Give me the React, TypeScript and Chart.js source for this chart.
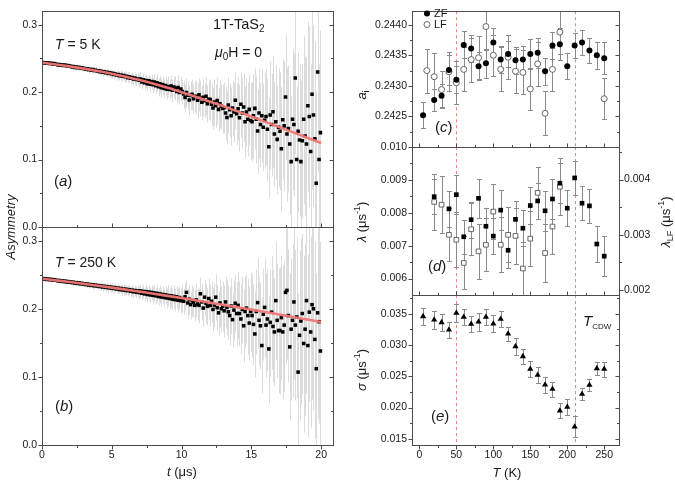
import React, { useEffect, useRef } from "react";
import { Chart, registerables } from "chart.js";
Chart.register(...registerables);

// ---------------- data ----------------
const timeUs = [
  0.05, 0.15, 0.25, 0.35, 0.45, 0.55, 0.65, 0.75, 0.85, 0.95,
  1.05, 1.15, 1.25, 1.35, 1.45, 1.55, 1.65, 1.75, 1.85, 1.95,
  2.05, 2.15, 2.25, 2.35, 2.45, 2.55, 2.65, 2.75, 2.85, 2.95,
  3.05, 3.15, 3.25, 3.35, 3.45, 3.55, 3.65, 3.75, 3.85, 3.95,
  4.05, 4.15, 4.25, 4.35, 4.45, 4.55, 4.65, 4.75, 4.85, 4.95,
  5.05, 5.15, 5.25, 5.35, 5.45, 5.55, 5.65, 5.75, 5.85, 5.95,
  6.05, 6.15, 6.25, 6.35, 6.45, 6.55, 6.65, 6.75, 6.85, 6.95,
  7.05, 7.15, 7.25, 7.35, 7.45, 7.55, 7.65, 7.75, 7.85, 7.95,
  8.05, 8.15, 8.25, 8.35, 8.45, 8.55, 8.65, 8.75, 8.85, 8.95,
  9.05, 9.15, 9.25, 9.35, 9.45, 9.55, 9.65, 9.75, 9.85, 9.95,
  10.05, 10.15, 10.25, 10.35, 10.45, 10.55, 10.65, 10.75, 10.85, 10.95,
  11.05, 11.15, 11.25, 11.35, 11.45, 11.55, 11.65, 11.75, 11.85, 11.95,
  12.05, 12.15, 12.25, 12.35, 12.45, 12.55, 12.65, 12.75, 12.85, 12.95,
  13.05, 13.15, 13.25, 13.35, 13.45, 13.55, 13.65, 13.75, 13.85, 13.95,
  14.05, 14.15, 14.25, 14.35, 14.45, 14.55, 14.65, 14.75, 14.85, 14.95,
  15.05, 15.15, 15.25, 15.35, 15.45, 15.55, 15.65, 15.75, 15.85, 15.95,
  16.05, 16.15, 16.25, 16.35, 16.45, 16.55, 16.65, 16.75, 16.85, 16.95,
  17.05, 17.15, 17.25, 17.35, 17.45, 17.55, 17.65, 17.75, 17.85, 17.95,
  18.05, 18.15, 18.25, 18.35, 18.45, 18.55, 18.65, 18.75, 18.85, 18.95,
  19.05, 19.15, 19.25, 19.35, 19.45, 19.55, 19.65, 19.75, 19.85, 19.95,
];

const asymT5 = [
  0.2440, 0.2432, 0.2437, 0.2428, 0.2431, 0.2425, 0.2429, 0.2420, 0.2424, 0.2416,
  0.2413, 0.2405, 0.2410, 0.2401, 0.2404, 0.2396, 0.2402, 0.2391, 0.2395, 0.2388,
  0.2384, 0.2374, 0.2381, 0.2368, 0.2373, 0.2363, 0.2370, 0.2358, 0.2362, 0.2352,
  0.2351, 0.2340, 0.2347, 0.2333, 0.2339, 0.2327, 0.2335, 0.2321, 0.2326, 0.2314,
  0.2318, 0.2303, 0.2311, 0.2296, 0.2304, 0.2289, 0.2297, 0.2280, 0.2288, 0.2272,
  0.2279, 0.2262, 0.2270, 0.2254, 0.2263, 0.2245, 0.2256, 0.2237, 0.2246, 0.2228,
  0.2236, 0.2215, 0.2227, 0.2206, 0.2219, 0.2195, 0.2209, 0.2188, 0.2196, 0.2176,
  0.2195, 0.2150, 0.2185, 0.2140, 0.2172, 0.2125, 0.2168, 0.2118, 0.2160, 0.2112,
  0.2150, 0.2095, 0.2138, 0.2080, 0.2125, 0.2065, 0.2112, 0.2055, 0.2098, 0.2045,
  0.2085, 0.2040, 0.2092, 0.2028, 0.2078, 0.2060, 0.2012, 0.2068, 0.1995, 0.2048,
  0.2010, 0.1975, 0.1920, 0.1995, 0.1955, 0.1885, 0.1950, 0.1968, 0.1902, 0.1940,
  0.1935, 0.1880, 0.1962, 0.1910, 0.1850, 0.1925, 0.1872, 0.1940, 0.1830, 0.1895,
  0.1890, 0.1820, 0.1765, 0.1855, 0.1800, 0.1875, 0.1745, 0.1830, 0.1790, 0.1760,
  0.1770, 0.1690, 0.1625, 0.1810, 0.1740, 0.1650, 0.1765, 0.1705, 0.1880, 0.1680,
  0.1755, 0.1620, 0.1820, 0.1690, 0.1780, 0.1560, 0.1705, 0.1600, 0.1745, 0.1580,
  0.1560, 0.1650, 0.1760, 0.1600, 0.1425, 0.1690, 0.1520, 0.1650, 0.1480, 0.1585,
  0.1640, 0.1450, 0.1190, 0.1660, 0.1520, 0.1710, 0.1380, 0.1560, 0.1300, 0.1480,
  0.1420, 0.1160, 0.1590, 0.1500, 0.1930, 0.1380, 0.1460, 0.1230, 0.0970, 0.1600,
  0.1520, 0.2210, 0.1000, 0.1420, 0.1290, 0.0970, 0.1280, 0.1600, 0.1350, 0.1230,
  0.1800, 0.1640, 0.1120, 0.1970, 0.1660, 0.1310, 0.0650, 0.2300, 0.1000, 0.1400,
];

const asymT5Err = [
  0.0020, 0.0021, 0.0021, 0.0022, 0.0021, 0.0022, 0.0022, 0.0023, 0.0022, 0.0023,
  0.0025, 0.0026, 0.0025, 0.0027, 0.0026, 0.0027, 0.0028, 0.0027, 0.0028, 0.0029,
  0.0031, 0.0033, 0.0032, 0.0034, 0.0033, 0.0035, 0.0034, 0.0036, 0.0035, 0.0037,
  0.0039, 0.0041, 0.0040, 0.0043, 0.0042, 0.0044, 0.0043, 0.0046, 0.0045, 0.0047,
  0.0049, 0.0052, 0.0050, 0.0054, 0.0053, 0.0056, 0.0054, 0.0058, 0.0056, 0.0059,
  0.0062, 0.0065, 0.0063, 0.0068, 0.0066, 0.0070, 0.0068, 0.0073, 0.0070, 0.0074,
  0.0078, 0.0082, 0.0080, 0.0086, 0.0083, 0.0088, 0.0086, 0.0092, 0.0088, 0.0094,
  0.0098, 0.0103, 0.0100, 0.0108, 0.0104, 0.0111, 0.0107, 0.0115, 0.0110, 0.0118,
  0.0122, 0.0129, 0.0125, 0.0135, 0.0130, 0.0139, 0.0133, 0.0144, 0.0137, 0.0148,
  0.0153, 0.0162, 0.0157, 0.0170, 0.0163, 0.0175, 0.0167, 0.0181, 0.0172, 0.0186,
  0.0192, 0.0204, 0.0197, 0.0213, 0.0205, 0.0220, 0.0209, 0.0227, 0.0215, 0.0233,
  0.0241, 0.0256, 0.0247, 0.0268, 0.0257, 0.0276, 0.0262, 0.0285, 0.0270, 0.0292,
  0.0302, 0.0321, 0.0310, 0.0336, 0.0322, 0.0346, 0.0328, 0.0357, 0.0338, 0.0366,
  0.0378, 0.0402, 0.0388, 0.0420, 0.0403, 0.0433, 0.0411, 0.0447, 0.0423, 0.0458,
  0.0468, 0.0497, 0.0480, 0.0520, 0.0499, 0.0536, 0.0508, 0.0553, 0.0524, 0.0567,
  0.0585, 0.0621, 0.0600, 0.0650, 0.0624, 0.0670, 0.0636, 0.0691, 0.0655, 0.0709,
  0.0720, 0.0765, 0.0738, 0.0800, 0.0768, 0.0824, 0.0782, 0.0850, 0.0806, 0.0872,
  0.0873, 0.0927, 0.0895, 0.0970, 0.0931, 0.0999, 0.0948, 0.1031, 0.0977, 0.1057,
  0.1062, 0.1128, 0.1088, 0.1180, 0.1133, 0.1215, 0.1153, 0.1254, 0.1189, 0.1286,
  0.1260, 0.1338, 0.1291, 0.1400, 0.1344, 0.1442, 0.1368, 0.1488, 0.1411, 0.1526,
];

const asymT250 = [
  0.2443, 0.2436, 0.2441, 0.2430, 0.2435, 0.2426, 0.2432, 0.2422, 0.2427, 0.2418,
  0.2418, 0.2409, 0.2415, 0.2403, 0.2409, 0.2399, 0.2406, 0.2394, 0.2400, 0.2390,
  0.2393, 0.2383, 0.2390, 0.2377, 0.2383, 0.2372, 0.2380, 0.2366, 0.2374, 0.2362,
  0.2366, 0.2355, 0.2362, 0.2348, 0.2356, 0.2343, 0.2352, 0.2337, 0.2346, 0.2333,
  0.2340, 0.2326, 0.2335, 0.2319, 0.2330, 0.2314, 0.2325, 0.2308, 0.2320, 0.2303,
  0.2314, 0.2297, 0.2309, 0.2290, 0.2303, 0.2283, 0.2298, 0.2276, 0.2290, 0.2270,
  0.2286, 0.2266, 0.2280, 0.2258, 0.2273, 0.2250, 0.2268, 0.2243, 0.2262, 0.2238,
  0.2262, 0.2228, 0.2255, 0.2218, 0.2250, 0.2210, 0.2246, 0.2203, 0.2240, 0.2196,
  0.2232, 0.2190, 0.2226, 0.2180, 0.2218, 0.2172, 0.2210, 0.2165, 0.2204, 0.2158,
  0.2195, 0.2150, 0.2190, 0.2140, 0.2182, 0.2132, 0.2175, 0.2125, 0.2165, 0.2118,
  0.2150, 0.2110, 0.2175, 0.2240, 0.2085, 0.2140, 0.2060, 0.2120, 0.2095, 0.2050,
  0.2130, 0.2070, 0.2050, 0.2220, 0.2100, 0.2010, 0.2170, 0.2080, 0.2035, 0.2150,
  0.2050, 0.2110, 0.1990, 0.2055, 0.2170, 0.2015, 0.1940, 0.2085, 0.2000, 0.2040,
  0.1970, 0.2100, 0.2020, 0.1955, 0.1900, 0.2040, 0.1840, 0.1980, 0.2080, 0.1930,
  0.2050, 0.1930, 0.1850, 0.1990, 0.1750, 0.1960, 0.2010, 0.1900, 0.1790, 0.1960,
  0.1900, 0.1770, 0.1630, 0.1960, 0.2090, 0.1830, 0.1750, 0.1460, 0.1920, 0.2020,
  0.1760, 0.1850, 0.1410, 0.1800, 0.1950, 0.1740, 0.1660, 0.2120, 0.1830, 0.1680,
  0.1680, 0.1870, 0.1660, 0.1760, 0.2240, 0.2270, 0.1900, 0.1440, 0.1700, 0.1830,
  0.2100, 0.1760, 0.1880, 0.1070, 0.1610, 0.1820, 0.1930, 0.1490, 0.1700, 0.2120,
  0.1460, 0.1950, 0.1660, 0.2060, 0.2000, 0.1550, 0.1120, 0.1940, 0.1810, 0.1380,
];

const asymT250Err = [
  0.0021, 0.0020, 0.0022, 0.0021, 0.0023, 0.0022, 0.0021, 0.0023, 0.0022, 0.0024,
  0.0026, 0.0025, 0.0027, 0.0026, 0.0028, 0.0027, 0.0026, 0.0029, 0.0028, 0.0030,
  0.0032, 0.0031, 0.0034, 0.0033, 0.0035, 0.0034, 0.0033, 0.0036, 0.0035, 0.0038,
  0.0040, 0.0039, 0.0042, 0.0041, 0.0044, 0.0043, 0.0042, 0.0046, 0.0044, 0.0048,
  0.0050, 0.0049, 0.0053, 0.0052, 0.0055, 0.0054, 0.0053, 0.0058, 0.0056, 0.0060,
  0.0063, 0.0062, 0.0066, 0.0065, 0.0069, 0.0068, 0.0066, 0.0072, 0.0070, 0.0075,
  0.0079, 0.0077, 0.0083, 0.0081, 0.0087, 0.0085, 0.0083, 0.0091, 0.0088, 0.0095,
  0.0099, 0.0097, 0.0104, 0.0102, 0.0109, 0.0107, 0.0104, 0.0114, 0.0110, 0.0119,
  0.0124, 0.0121, 0.0130, 0.0128, 0.0137, 0.0134, 0.0130, 0.0143, 0.0138, 0.0149,
  0.0156, 0.0152, 0.0163, 0.0160, 0.0172, 0.0168, 0.0163, 0.0179, 0.0173, 0.0187,
  0.0195, 0.0190, 0.0205, 0.0201, 0.0216, 0.0211, 0.0205, 0.0225, 0.0217, 0.0235,
  0.0245, 0.0239, 0.0257, 0.0252, 0.0271, 0.0265, 0.0257, 0.0282, 0.0272, 0.0295,
  0.0307, 0.0300, 0.0322, 0.0316, 0.0340, 0.0332, 0.0322, 0.0354, 0.0341, 0.0370,
  0.0385, 0.0376, 0.0404, 0.0396, 0.0426, 0.0416, 0.0404, 0.0444, 0.0428, 0.0464,
  0.0483, 0.0472, 0.0507, 0.0497, 0.0534, 0.0522, 0.0507, 0.0557, 0.0537, 0.0582,
  0.0606, 0.0592, 0.0636, 0.0623, 0.0670, 0.0655, 0.0636, 0.0699, 0.0674, 0.0730,
  0.0760, 0.0742, 0.0798, 0.0782, 0.0841, 0.0822, 0.0798, 0.0877, 0.0845, 0.0916,
  0.0935, 0.0913, 0.0982, 0.0962, 0.1034, 0.1011, 0.0982, 0.1079, 0.1040, 0.1127,
  0.1128, 0.1101, 0.1185, 0.1160, 0.1248, 0.1220, 0.1185, 0.1302, 0.1255, 0.1360,
  0.1340, 0.1308, 0.1408, 0.1378, 0.1482, 0.1449, 0.1408, 0.1546, 0.1490, 0.1615,
];

const fitTime = [0, 1, 2, 3, 4, 5, 6, 7, 8, 9, 10, 11, 12, 13, 14, 15, 16, 17, 18, 19, 20];
const fitT5 = [0.2438, 0.2412, 0.2383, 0.2350, 0.2315, 0.2275, 0.2230, 0.2180, 0.2125, 0.2065,
  0.2000, 0.1932, 0.1862, 0.1790, 0.1715, 0.1638, 0.1560, 0.1482, 0.1404, 0.1325, 0.1245];
const fitT250 = [0.2441, 0.2417, 0.2392, 0.2365, 0.2338, 0.2310, 0.2281, 0.2251, 0.2221, 0.2189,
  0.2157, 0.2124, 0.2090, 0.2056, 0.2022, 0.1987, 0.1951, 0.1915, 0.1879, 0.1842, 0.1805];

const tempZF = [5, 20, 30, 40, 50, 60, 70, 80, 90, 100, 110, 120, 130, 140, 150, 160, 170, 180, 190, 200, 210, 220, 230, 240, 250];
const aiZF = [0.24252, 0.24277, 0.24284, 0.24326, 0.24310, 0.24367, 0.24361, 0.24332, 0.24337, 0.24371, 0.24343, 0.24352, 0.24342,
  0.24343, 0.24352, 0.24354, 0.24324, 0.24366, 0.24368, 0.24332, 0.24366, 0.24371, 0.24358, 0.24350, 0.24345];
const aiZFErr = [0.00021, 0.00018, 0.00019, 0.00024, 0.00022, 0.00022, 0.00022, 0.00023, 0.00024, 0.00023, 0.00022, 0.00021, 0.00022,
  0.00022, 0.00024, 0.00024, 0.00022, 0.00022, 0.00026, 0.00021, 0.00021, 0.00021, 0.00021, 0.00022, 0.00026];

const tempLF = [10, 20, 30, 40, 50, 60, 70, 80, 90, 100, 110, 120, 130, 140, 150, 160, 170, 180, 190, 250];
const aiLF = [0.24325, 0.24315, 0.24294, 0.24323, 0.24305, 0.24327, 0.24343, 0.24346, 0.24397, 0.24350, 0.24327, 0.24347, 0.24324,
  0.24322, 0.24295, 0.24336, 0.24255, 0.24327, 0.24388, 0.24279];
const aiLFErr = [0.00036, 0.00038, 0.00030, 0.00032, 0.00035, 0.00036, 0.00036, 0.00035, 0.00038, 0.00034, 0.00036, 0.00036, 0.00036,
  0.00036, 0.00035, 0.00036, 0.00036, 0.00035, 0.00036, 0.00034];

const lamZFTemp = [20, 40, 50, 60, 70, 80, 90, 100, 110, 120, 130, 140, 150, 160, 170, 180, 190, 200, 210, 220, 230, 240, 250];
const lamZF = [0.00849, 0.00812, 0.00855, 0.00727, 0.00779, 0.00844, 0.00759, 0.00729, 0.00808, 0.00686, 0.00780, 0.00753,
  0.00822, 0.00836, 0.00806, 0.00842, 0.00890, 0.00814, 0.00906, 0.00829, 0.00821, 0.00705, 0.00668];
const lamZFErr = [0.00053, 0.00055, 0.00060, 0.00052, 0.00055, 0.00060, 0.00055, 0.00055, 0.00060, 0.00055, 0.00055, 0.00055,
  0.00055, 0.00055, 0.00060, 0.00060, 0.00060, 0.00055, 0.00052, 0.00052, 0.00052, 0.00055, 0.00060];

const lamLFTemp = [20, 30, 40, 50, 60, 70, 80, 90, 100, 110, 120, 130, 140, 150, 160, 170, 180, 190];
const lamLF = [0.003595, 0.003545, 0.00300, 0.00291, 0.00249, 0.00310, 0.00270, 0.00282, 0.00342, 0.00282, 0.00300, 0.00298,
  0.00239, 0.00293, 0.00376, 0.00267, 0.00315, 0.00387];
const lamLFErr = [0.00050, 0.00052, 0.00048, 0.00050, 0.00048, 0.00047, 0.00050, 0.00048, 0.00050, 0.00050, 0.00050, 0.00050,
  0.00048, 0.00050, 0.00047, 0.00052, 0.00050, 0.00052];

const sigmaTemp = [5, 20, 30, 40, 50, 60, 70, 80, 90, 100, 110, 120, 130, 140, 150, 160, 170, 180, 190, 200, 210, 220, 230, 240, 250];
const sigma = [0.03457, 0.03404, 0.03361, 0.03244, 0.03511, 0.03447, 0.03335, 0.03372, 0.03447, 0.03340, 0.03415, 0.03180, 0.02977,
  0.02817, 0.02615, 0.02519, 0.02364, 0.02295, 0.01948, 0.02007, 0.01692, 0.02215, 0.02359, 0.02625, 0.02615];
const sigmaErr = [0.00133, 0.00140, 0.00130, 0.00130, 0.00140, 0.00133, 0.00133, 0.00140, 0.00133, 0.00133, 0.00130, 0.00110, 0.00130,
  0.00120, 0.00130, 0.00130, 0.00130, 0.00120, 0.00120, 0.00130, 0.00170, 0.00090, 0.00100, 0.00100, 0.00120];

const cdwMarks = [50, 210];

const tTicks = [0, 5, 10, 15, 20];
const tMinor = [2.5, 7.5, 12.5, 17.5];
const asymTicks = [0, 0.1, 0.2, 0.3];
const asymMinor = [0.05, 0.15, 0.25];
const tempTicks = [0, 50, 100, 150, 200, 250];
const tempMinor = [25, 75, 125, 175, 225];
const aiTicks = [0.2425, 0.2430, 0.2435, 0.2440];
const aiMinor = [0.24225, 0.24275, 0.24325, 0.24375];
const lamTicks = [0.006, 0.007, 0.008, 0.009, 0.010];
const lamMinor = [0.0065, 0.0075, 0.0085, 0.0095];
const lamLFTicks = [0.002, 0.003, 0.004];
const lamLFMinor = [0.0025, 0.0035, 0.0045];
const sigmaTicks = [0.015, 0.020, 0.025, 0.030, 0.035];
const sigmaMinor = [0.0175, 0.0225, 0.0275, 0.0325, 0.0375];

// ---------------- helpers ----------------
const FONT = "'Liberation Sans', Arial, sans-serif";
const INK = "#1a1a1a";
const FRAME = "#4a4a4a";
const RED = "rgba(240,118,118,0.95)";

type Seg = { t: string; it?: boolean; sub?: boolean; sup?: boolean; k?: number };
type TextItem = { segs: Seg[]; x: number; y: number; size: number; align?: "left" | "center"; rot?: number };

function segFont(s: Seg, base: number) {
  const sz = s.sub || s.sup ? Math.round(base * (s.k ?? 0.68)) : base;
  return `${s.it ? "italic " : ""}${sz}px ${FONT}`;
}

function drawRich(ctx: CanvasRenderingContext2D, item: TextItem) {
  const { segs, x, y, size } = item;
  ctx.save();
  ctx.translate(x, y);
  if (item.rot) ctx.rotate(item.rot);
  ctx.textBaseline = "middle";
  ctx.textAlign = "left";
  ctx.fillStyle = INK;
  let w = 0;
  for (const s of segs) {
    ctx.font = segFont(s, size);
    w += ctx.measureText(s.t).width;
  }
  let cx = item.align === "center" ? -w / 2 : 0;
  for (const s of segs) {
    ctx.font = segFont(s, size);
    const dy = s.sub ? size * 0.32 : s.sup ? -size * 0.33 : 0;
    ctx.fillText(s.t, cx, dy);
    cx += ctx.measureText(s.t).width;
  }
  ctx.restore();
}

type Side = { scale: string; dir: "in" | "out"; major: number[]; minor: number[] };
type Decor = {
  left?: Side; right?: Side; top?: Side; bottom?: Side;
  vlines?: number[];
  texts: TextItem[];
  legend?: boolean;
};

const errorBarPlugin = {
  id: "errbars",
  beforeDatasetsDraw(chart: any) {
    const { ctx, chartArea: a } = chart;
    ctx.save();
    ctx.beginPath();
    ctx.rect(a.left, a.top, a.right - a.left, a.bottom - a.top);
    ctx.clip();
    chart.data.datasets.forEach((ds: any, i: number) => {
      if (!ds.errors) return;
      const meta = chart.getDatasetMeta(i);
      const xs = chart.scales[meta.xAxisID];
      const ys = chart.scales[meta.yAxisID];
      ctx.strokeStyle = ds.errColor;
      ctx.lineWidth = 1;
      ds.data.forEach((p: any, j: number) => {
        const e = ds.errors[j];
        const px = Math.round(xs.getPixelForValue(p.x)) + 0.5;
        const y1 = Math.round(ys.getPixelForValue(p.y - e)) + 0.5;
        const y2 = Math.round(ys.getPixelForValue(p.y + e)) + 0.5;
        ctx.beginPath();
        ctx.moveTo(px, y1);
        ctx.lineTo(px, y2);
        if (ds.cap) {
          ctx.moveTo(px - ds.cap, y1);
          ctx.lineTo(px + ds.cap, y1);
          ctx.moveTo(px - ds.cap, y2);
          ctx.lineTo(px + ds.cap, y2);
        }
        ctx.stroke();
      });
    });
    ctx.restore();
  },
};

function decorPlugin(d: Decor) {
  const drawSide = (chart: any, pos: "left" | "right" | "top" | "bottom", side?: Side) => {
    if (!side) return;
    const { ctx, chartArea: a } = chart;
    const s = chart.scales[side.scale];
    const lo = Math.min(s.min, s.max), hi = Math.max(s.min, s.max);
    const one = (v: number, len: number) => {
      if (v < lo - 1e-12 || v > hi + 1e-12) return;
      const p = Math.round(s.getPixelForValue(v)) + 0.5;
      ctx.beginPath();
      if (pos === "left") {
        const x0 = Math.round(a.left) + 0.5;
        const sg = side.dir === "out" ? -1 : 1;
        ctx.moveTo(x0, p); ctx.lineTo(x0 + sg * len, p);
      } else if (pos === "right") {
        const x0 = Math.round(a.right) + 0.5;
        const sg = side.dir === "out" ? 1 : -1;
        ctx.moveTo(x0, p); ctx.lineTo(x0 + sg * len, p);
      } else if (pos === "bottom") {
        const y0 = Math.round(a.bottom) + 0.5;
        const sg = side.dir === "out" ? 1 : -1;
        ctx.moveTo(p, y0); ctx.lineTo(p, y0 + sg * len);
      } else {
        const y0 = Math.round(a.top) + 0.5;
        const sg = side.dir === "out" ? -1 : 1;
        ctx.moveTo(p, y0); ctx.lineTo(p, y0 + sg * len);
      }
      ctx.stroke();
    };
    ctx.save();
    ctx.strokeStyle = FRAME;
    ctx.lineWidth = 1;
    side.major.forEach((v) => one(v, 4));
    side.minor.forEach((v) => one(v, 2.5));
    ctx.restore();
  };
  return {
    id: "decor",
    beforeDatasetsDraw(chart: any) {
      if (!d.vlines) return;
      const { ctx, chartArea: a } = chart;
      const xs = chart.scales.x;
      ctx.save();
      ctx.strokeStyle = "rgba(232,96,96,0.8)";
      ctx.lineWidth = 1;
      ctx.setLineDash([3, 3]);
      d.vlines.forEach((v) => {
        const px = Math.round(xs.getPixelForValue(v)) + 0.5;
        ctx.beginPath();
        ctx.moveTo(px, a.top);
        ctx.lineTo(px, a.bottom);
        ctx.stroke();
      });
      ctx.restore();
    },
    afterDatasetsDraw(chart: any) {
      const { ctx, chartArea: a } = chart;
      ctx.save();
      ctx.strokeStyle = FRAME;
      ctx.lineWidth = 1;
      const l = Math.round(a.left) + 0.5, r = Math.round(a.right) + 0.5;
      const t = Math.round(a.top) + 0.5, b = Math.round(a.bottom) + 0.5;
      ctx.strokeRect(l, t, r - l, b - t);
      ctx.restore();
      drawSide(chart, "left", d.left);
      drawSide(chart, "right", d.right);
      drawSide(chart, "top", d.top);
      drawSide(chart, "bottom", d.bottom);
    },
    afterDraw(chart: any) {
      const { ctx } = chart;
      if (d.legend) {
        ctx.save();
        ctx.fillStyle = "#000";
        ctx.beginPath();
        ctx.arc(427, 13.5, 3, 0, Math.PI * 2);
        ctx.fill();
        ctx.strokeStyle = "#666";
        ctx.fillStyle = "#fff";
        ctx.lineWidth = 1;
        ctx.beginPath();
        ctx.arc(427, 24.5, 3, 0, Math.PI * 2);
        ctx.fill();
        ctx.stroke();
        ctx.restore();
      }
      d.texts.forEach((it) => drawRich(ctx, it));
    },
  };
}

const tickFont = { family: FONT, size: 10.5 };

function yScale(min: number, max: number, ticks: number[], digits: number, width: number, position = "left", show = true) {
  return {
    type: "linear",
    position,
    min,
    max,
    grid: { display: false, drawTicks: false, tickLength: 0 },
    border: { display: false },
    ticks: { display: show, font: tickFont, color: INK, padding: 5, callback: (v: any) => Number(v).toFixed(digits) },
    afterBuildTicks: (s: any) => { s.ticks = ticks.map((v) => ({ value: v })); },
    afterFit: (s: any) => { s.width = width; },
  };
}

function xScale(min: number, max: number, ticks: number[], show: boolean, height: number) {
  return {
    type: "linear",
    position: "bottom",
    min,
    max,
    grid: { display: false, drawTicks: false, tickLength: 0 },
    border: { display: false },
    ticks: { display: show, font: tickFont, color: INK, padding: 4, maxRotation: 0, callback: (v: any) => String(v) },
    afterBuildTicks: (s: any) => { s.ticks = ticks.map((v) => ({ value: v })); },
    afterFit: (s: any) => { s.height = height; },
  };
}

const pts = (xs: number[], ys: number[]) => xs.map((x, i) => ({ x, y: ys[i] }));

const baseOptions = (padding: any, scales: any) => ({
  responsive: false,
  animation: false,
  events: [],
  layout: { padding },
  plugins: { legend: { display: false }, tooltip: { enabled: false } },
  scales,
});

const T_MAX_US = 20.85;
const T_MIN_K = -10;
const T_MAX_K = 270;
const LIGHT_ERR = "#dcdcdc";

function configs(): any[] {
  const cfgA = {
    type: "scatter",
    data: {
      datasets: [
        { data: pts(fitTime, fitT5), showLine: true, borderColor: RED, borderWidth: 2.6, pointRadius: 0, cubicInterpolationMode: "monotone", order: 0 },
        { data: pts(timeUs, asymT5), errors: asymT5Err, errColor: LIGHT_ERR, pointStyle: "rect", pointRadius: 2.5, backgroundColor: "#000", borderWidth: 0, order: 1 },
      ],
    },
    options: baseOptions({ left: 0, top: 2, right: 342, bottom: 254 }, {
      x: xScale(0, T_MAX_US, tTicks, false, 0),
      y: yScale(0, 0.32, asymTicks, 1, 42),
    }),
    plugins: [
      decorPlugin({
        left: { scale: "y", dir: "out", major: asymTicks, minor: asymMinor },
        right: { scale: "y", dir: "in", major: asymTicks, minor: asymMinor },
        bottom: { scale: "x", dir: "in", major: tTicks, minor: tMinor },
        texts: [
          { segs: [{ t: "1T-TaS" }, { t: "2", sub: true }], x: 213, y: 25, size: 14.5 },
          { segs: [{ t: "μ", it: true }, { t: "0", sub: true }, { t: "H = 0" }], x: 215, y: 53, size: 14 },
          { segs: [{ t: "T", it: true }, { t: " = 5 K" }], x: 55, y: 45, size: 14 },
          { segs: [{ t: "(" }, { t: "a", it: true }, { t: ")" }], x: 54, y: 182, size: 15 },
          { segs: [{ t: "Asymmetry", it: true }], x: 11, y: 227, size: 13, align: "center", rot: -Math.PI / 2 },
        ],
      }),
      errorBarPlugin,
    ],
  };

  const cfgB = {
    type: "scatter",
    data: {
      datasets: [
        { data: pts(fitTime, fitT250), showLine: true, borderColor: RED, borderWidth: 2.6, pointRadius: 0, cubicInterpolationMode: "monotone", order: 0 },
        { data: pts(timeUs, asymT250), errors: asymT250Err, errColor: LIGHT_ERR, pointStyle: "rect", pointRadius: 2.5, backgroundColor: "#000", borderWidth: 0, order: 1 },
      ],
    },
    options: baseOptions({ left: 0, top: 227, right: 342, bottom: 16 }, {
      x: xScale(0, T_MAX_US, tTicks, true, 20),
      y: yScale(0, 0.32, asymTicks, 1, 42),
    }),
    plugins: [
      decorPlugin({
        left: { scale: "y", dir: "out", major: asymTicks, minor: asymMinor },
        right: { scale: "y", dir: "in", major: asymTicks, minor: asymMinor },
        bottom: { scale: "x", dir: "out", major: tTicks, minor: tMinor },
        texts: [
          { segs: [{ t: "T", it: true }, { t: " = 250 K" }], x: 55, y: 263, size: 14 },
          { segs: [{ t: "(" }, { t: "b", it: true }, { t: ")" }], x: 55, y: 407, size: 15 },
          { segs: [{ t: "t", it: true }, { t: " (μs)" }], x: 182, y: 472, size: 13, align: "center" },
        ],
      }),
      errorBarPlugin,
    ],
  };

  const cfgC = {
    type: "scatter",
    data: {
      datasets: [
        { data: pts(tempZF, aiZF), errors: aiZFErr, errColor: "#8a8a8a", cap: 2.5, pointStyle: "circle", pointRadius: 3, backgroundColor: "#000", borderWidth: 0, order: 0 },
        { data: pts(tempLF, aiLF), errors: aiLFErr, errColor: "#8a8a8a", cap: 2.5, pointStyle: "circle", pointRadius: 3, backgroundColor: "#fff", borderColor: "#666", borderWidth: 1, order: 1 },
      ],
    },
    options: baseOptions({ left: 0, top: 2, right: 56, bottom: 334 }, {
      x: xScale(T_MIN_K, T_MAX_K, tempTicks, false, 0),
      y: yScale(0.242, 0.24422, aiTicks, 4, 412),
    }),
    plugins: [
      decorPlugin({
        left: { scale: "y", dir: "out", major: aiTicks, minor: aiMinor },
        right: { scale: "y", dir: "in", major: aiTicks, minor: aiMinor },
        bottom: { scale: "x", dir: "in", major: tempTicks, minor: tempMinor },
        vlines: cdwMarks,
        legend: true,
        texts: [
          { segs: [{ t: "ZF" }], x: 434, y: 13.5, size: 11 },
          { segs: [{ t: "LF" }], x: 434, y: 24.5, size: 11 },
          { segs: [{ t: "(" }, { t: "c", it: true }, { t: ")" }], x: 435, y: 128, size: 15 },
          { segs: [{ t: "a", it: true }, { t: "i", sub: true }], x: 362, y: 95, size: 13, align: "center", rot: -Math.PI / 2 },
        ],
      }),
      errorBarPlugin,
    ],
  };

  const cfgD = {
    type: "scatter",
    data: {
      datasets: [
        { data: pts(lamZFTemp, lamZF), yAxisID: "y", errors: lamZFErr, errColor: "#8a8a8a", cap: 2.5, pointStyle: "rect", pointRadius: 3.3, backgroundColor: "#000", borderWidth: 0, order: 0 },
        { data: pts(lamLFTemp, lamLF), yAxisID: "y2", errors: lamLFErr, errColor: "#8a8a8a", cap: 2.5, pointStyle: "rect", pointRadius: 3.3, backgroundColor: "#fff", borderColor: "#666", borderWidth: 1, order: 1 },
      ],
    },
    options: baseOptions({ left: 0, top: 147, right: 0, bottom: 186 }, {
      x: xScale(T_MIN_K, T_MAX_K, tempTicks, false, 0),
      y: yScale(0.0055, 0.0100, lamTicks, 3, 412),
      y2: yScale(0.00191, 0.00459, lamLFTicks, 3, 56, "right"),
    }),
    plugins: [
      decorPlugin({
        left: { scale: "y", dir: "out", major: lamTicks, minor: lamMinor },
        right: { scale: "y2", dir: "out", major: lamLFTicks, minor: lamLFMinor },
        bottom: { scale: "x", dir: "in", major: tempTicks, minor: tempMinor },
        vlines: cdwMarks,
        texts: [
          { segs: [{ t: "(" }, { t: "d", it: true }, { t: ")" }], x: 428, y: 267, size: 15 },
          { segs: [{ t: "λ", it: true }, { t: " (μs" }, { t: "-1", sup: true }, { t: ")" }], x: 362, y: 222, size: 13, align: "center", rot: -Math.PI / 2 },
          { segs: [{ t: "λ", it: true }, { t: "LF", sub: true }, { t: " (μs" }, { t: "-1", sup: true }, { t: ")" }], x: 666, y: 222, size: 13, align: "center", rot: -Math.PI / 2 },
        ],
      }),
      errorBarPlugin,
    ],
  };

  const cfgE = {
    type: "scatter",
    data: {
      datasets: [
        { data: pts(sigmaTemp, sigma), errors: sigmaErr, errColor: "#8a8a8a", cap: 2.5, pointStyle: "triangle", pointRadius: 3.6, backgroundColor: "#000", borderWidth: 0 },
      ],
    },
    options: baseOptions({ left: 0, top: 295, right: 56, bottom: 16 }, {
      x: xScale(T_MIN_K, T_MAX_K, tempTicks, true, 20),
      y: yScale(0.014, 0.038, sigmaTicks, 3, 412),
    }),
    plugins: [
      decorPlugin({
        left: { scale: "y", dir: "out", major: sigmaTicks, minor: sigmaMinor },
        right: { scale: "y", dir: "in", major: sigmaTicks, minor: sigmaMinor },
        bottom: { scale: "x", dir: "out", major: tempTicks, minor: tempMinor },
        vlines: cdwMarks,
        texts: [
          { segs: [{ t: "(" }, { t: "e", it: true }, { t: ")" }], x: 431, y: 417, size: 15 },
          { segs: [{ t: "T", it: true }, { t: "CDW", sub: true, k: 0.56 }], x: 583, y: 322, size: 15 },
          { segs: [{ t: "T", it: true }, { t: " (K)" }], x: 507, y: 473, size: 13, align: "center" },
          { segs: [{ t: "σ", it: true }, { t: " (μs" }, { t: "-1", sup: true }, { t: ")" }], x: 362, y: 370, size: 13, align: "center", rot: -Math.PI / 2 },
        ],
      }),
      errorBarPlugin,
    ],
  };

  return [cfgA, cfgB, cfgC, cfgD, cfgE];
}

export default function App() {
  const refs = [useRef<HTMLCanvasElement>(null), useRef<HTMLCanvasElement>(null), useRef<HTMLCanvasElement>(null), useRef<HTMLCanvasElement>(null), useRef<HTMLCanvasElement>(null)];
  useEffect(() => {
    const cfgs = configs();
    const charts = cfgs.map((c, i) => new Chart(refs[i].current as HTMLCanvasElement, c));
    return () => charts.forEach((c) => c.destroy());
  }, []);
  return (
    <div style={{ position: "absolute", left: 0, top: 0, width: 675, height: 481, background: "#fff", overflow: "hidden" }}>
      {refs.map((r, i) => (
        <canvas key={i} ref={r} width={675} height={481} style={{ position: "absolute", left: 0, top: 0 }} />
      ))}
    </div>
  );
}
